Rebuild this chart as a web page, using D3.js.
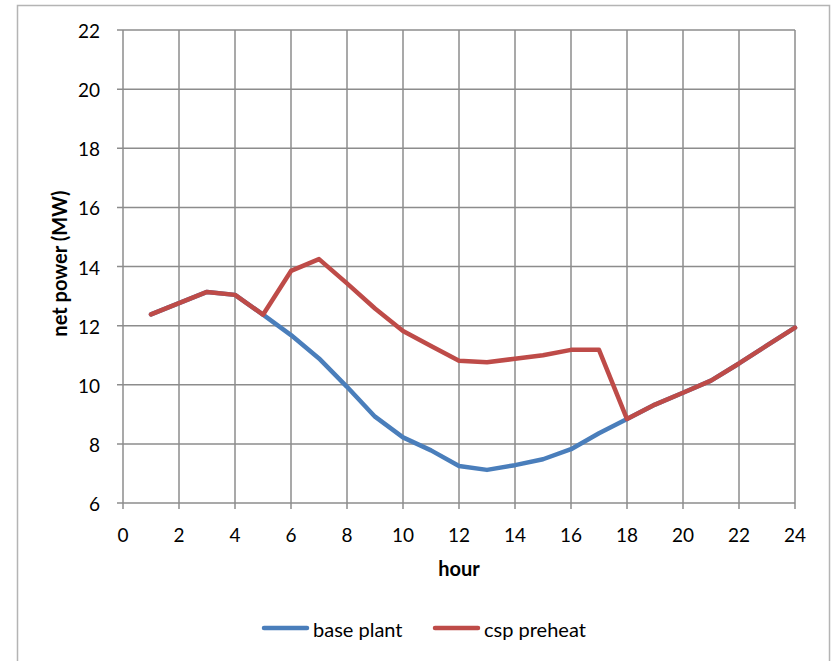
<!DOCTYPE html>
<html>
<head>
<meta charset="utf-8">
<script src="https://cdn.jsdelivr.net/npm/d3@7"></script>
<style>
  body { margin: 0; background: #fff; }
  text { font-family: Lato, "Open Sans", sans-serif; fill: #000; }
</style>
</head>
<body>
<div id="chart"></div>
<script>
'use strict';

var hours = [1,2,3,4,5,6,7,8,9,10,11,12,13,14,15,16,17,18,19,20,21,22,23,24];
var basePlant = [12.38,12.76,13.14,13.04,12.37,11.68,10.89,9.93,8.92,8.22,7.78,7.25,7.12,7.28,7.48,7.82,8.36,8.84,9.33,9.73,10.14,10.72,11.33,11.93];
var cspPreheat = [12.38,12.76,13.14,13.04,12.37,13.85,14.25,13.43,12.58,11.82,11.31,10.81,10.76,10.88,11.0,11.18,11.18,8.84,9.33,9.73,10.14,10.72,11.33,11.93];
var xTicks = [0,2,4,6,8,10,12,14,16,18,20,22,24];
var yTicks = [6,8,10,12,14,16,18,20,22];
var seriesNames = ["base plant", "csp preheat"];
var seriesColors = ["#4a7ebb", "#be4b48"];

var W = 831, H = 661;
var m = {left: 123, right: 36, top: 30, bottom: 158};

var svg = d3.select("#chart").append("svg")
  .attr("width", W).attr("height", H);

// frame
svg.append("rect")
  .attr("x", 17.5).attr("y", 5.5)
  .attr("width", 812).attr("height", H)
  .attr("fill", "none").attr("stroke", "#b4b4b4").attr("stroke-width", 1.5);

var x = d3.scaleLinear().domain([0, 24]).range([m.left, W - m.right]);
var y = d3.scaleLinear().domain([6, 22]).range([H - m.bottom, m.top]);

var grid = svg.append("g").attr("stroke", "#8c8c8c").attr("stroke-width", 1.5);
grid.selectAll(".gx").data(xTicks).enter().append("line")
  .attr("x1", function(d){ return x(d); }).attr("x2", function(d){ return x(d); })
  .attr("y1", y(22)).attr("y2", y(6) + 6);
grid.selectAll(".gy").data(yTicks).enter().append("line")
  .attr("x1", x(0) - 6).attr("x2", x(24))
  .attr("y1", function(d){ return y(d); }).attr("y2", function(d){ return y(d); });

// tick labels
svg.append("g").selectAll("text").data(xTicks).enter().append("text")
  .attr("x", function(d){ return x(d); })
  .attr("y", y(6) + 39)
  .attr("text-anchor", "middle")
  .style("font-size", "19px")
  .text(function(d){ return d; });

svg.append("g").selectAll("text").data(yTicks).enter().append("text")
  .attr("x", x(0) - 23)
  .attr("y", function(d){ return y(d) + 8; })
  .attr("text-anchor", "end")
  .style("font-size", "19px")
  .text(function(d){ return d; });

// axis titles
svg.append("text")
  .attr("x", x(12)).attr("y", y(6) + 73)
  .attr("text-anchor", "middle")
  .style("font-size", "20px").style("font-weight", "bold")
  .text("hour");

svg.append("text")
  .attr("transform", "translate(60," + y(14.1) + ") rotate(-90)")
  .attr("dy", "0.35em")
  .attr("text-anchor", "middle")
  .style("font-size", "20px").style("font-weight", "bold")
  .text("net power (MW)");

// lines
var line = d3.line()
  .x(function(d){ return x(d[0]); })
  .y(function(d){ return y(d[1]); });

[basePlant, cspPreheat].forEach(function(vals, i){
  svg.append("path")
    .datum(hours.map(function(h, j){ return [h, vals[j]]; }))
    .attr("d", line)
    .attr("fill", "none")
    .attr("stroke", seriesColors[i])
    .attr("stroke-width", 4.5)
    .attr("stroke-linejoin", "round")
    .attr("stroke-linecap", "round");
});

// legend
var legX = [264, 435];
var leg = svg.append("g");
seriesNames.forEach(function(name, i){
  leg.append("line")
    .attr("x1", legX[i]).attr("x2", legX[i] + 43)
    .attr("y1", 628).attr("y2", 628)
    .attr("stroke", seriesColors[i]).attr("stroke-width", 4.5)
    .attr("stroke-linecap", "round");
  leg.append("text")
    .attr("x", legX[i] + 49).attr("y", 637)
    .style("font-size", "20px")
    .text(name);
});
</script>
</body>
</html>
